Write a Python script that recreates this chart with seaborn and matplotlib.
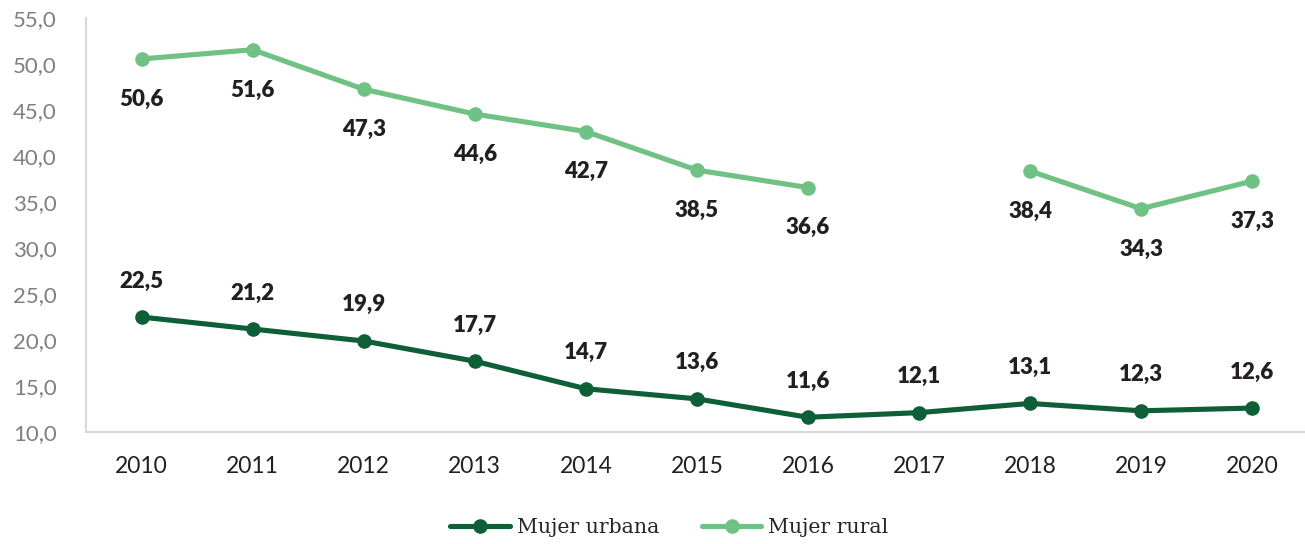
import matplotlib
matplotlib.use('Agg')
import matplotlib.pyplot as plt
from matplotlib.lines import Line2D
import numpy as np
import pandas as pd
import seaborn as sns

years = [2010, 2011, 2012, 2013, 2014, 2015, 2016, 2017, 2018, 2019, 2020]
urbana = [22.5, 21.2, 19.9, 17.7, 14.7, 13.6, 11.6, 12.1, 13.1, 12.3, 12.6]
rural = [50.6, 51.6, 47.3, 44.6, 42.7, 38.5, 36.6, np.nan, 38.4, 34.3, 37.3]

c_urb = '#0e5e37'
c_rur = '#70c184'

def fmt(v):
    return f'{v:.1f}'.replace('.', ',')

# long-form table; a gap in the data starts a new segment
rows = []
for name, vals in [('Mujer urbana', urbana), ('Mujer rural', rural)]:
    seg = 0
    for y, v in zip(years, vals):
        if np.isnan(v):
            seg += 1
            continue
        rows.append({'year': y, 'value': v, 'serie': name, 'seg': seg})
df = pd.DataFrame(rows)

sns.set_style('white')
plt.rcParams['font.family'] = ['Lato', 'DejaVu Sans']

fig = plt.figure(figsize=(13.05, 5.44), dpi=100)
ax = fig.add_axes([0.066, 0.206, 0.936, 0.76])

sns.lineplot(data=df, x='year', y='value', hue='serie', units='seg', estimator=None,
             palette={'Mujer urbana': c_urb, 'Mujer rural': c_rur},
             marker='o', markersize=10.5, markeredgewidth=0, linewidth=3.7,
             legend=False, ax=ax)

for y, v in zip(years, urbana):
    ax.annotate(fmt(v), (y, v), xytext=(0, 26), textcoords='offset points',
                ha='center', va='center', fontsize=16, fontweight='heavy', color='#231f20')
for y, v in zip(years, rural):
    if np.isnan(v):
        continue
    ax.annotate(fmt(v), (y, v), xytext=(0, -29), textcoords='offset points',
                ha='center', va='center', fontsize=16, fontweight='heavy', color='#231f20')

ax.set_xlim(2009.5, 2020.5)
ax.set_ylim(10, 55)
ax.set_yticks(np.arange(10, 56, 5))
ax.set_yticklabels([fmt(t) for t in np.arange(10, 56, 5)])
ax.set_xticks(years)
ax.set_xticklabels([str(y) for y in years])
ax.set_xlabel('')
ax.set_ylabel('')
ax.tick_params(axis='y', labelsize=16, colors='#7f7f7f', length=0, pad=21)
ax.tick_params(axis='x', labelsize=16.5, labelcolor='#231f20', length=0, pad=17)

for s in ['top', 'right']:
    ax.spines[s].set_visible(False)
for s in ['left', 'bottom']:
    ax.spines[s].set_color('#d9d9d9')
    ax.spines[s].set_linewidth(1.5)

handles = [Line2D([], [], color=c_urb, lw=3.7, marker='o', markersize=10.5, markeredgewidth=0),
           Line2D([], [], color=c_rur, lw=3.7, marker='o', markersize=10.5, markeredgewidth=0)]
fig.legend(handles, ['Mujer urbana', 'Mujer rural'], loc='center', bbox_to_anchor=(0.513, 0.03),
           ncol=2, frameon=False, prop={'family': 'DejaVu Serif', 'size': 14.7},
           handlelength=2.9, columnspacing=2.1, handletextpad=0.35)

fig.savefig('out.png', dpi=100)
